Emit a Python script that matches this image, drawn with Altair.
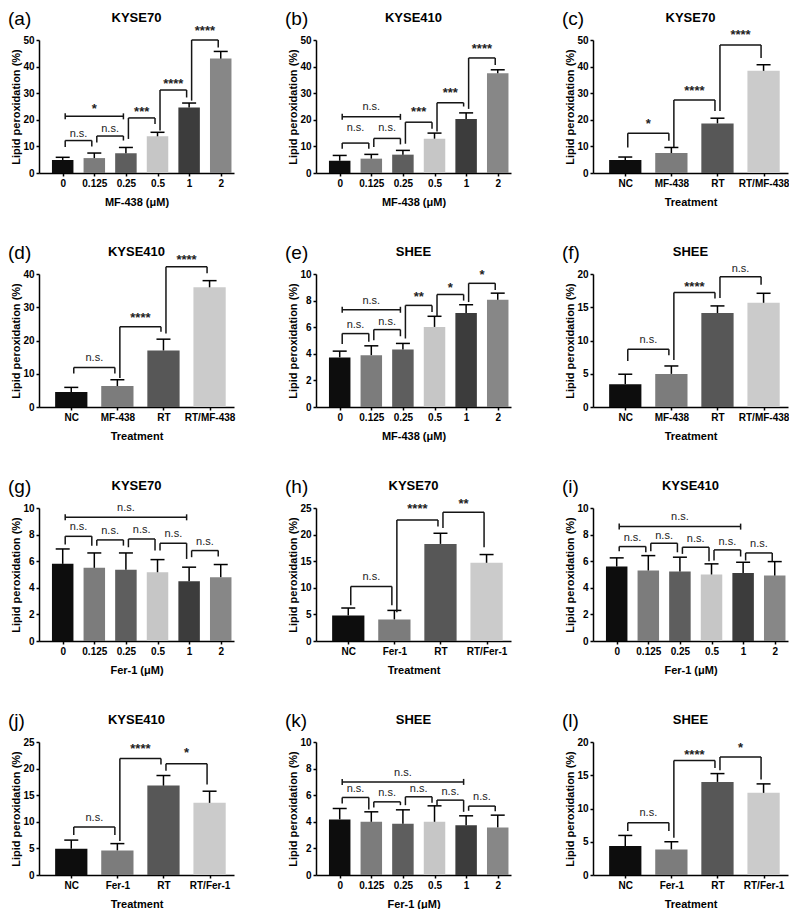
import json
import altair as alt
import pandas as pd

FONT = "Liberation Sans"
W, H = 195, 133
YTITLE = "Lipid peroxidation (%)"

DOSES = ["0", "0.125", "0.25", "0.5", "1", "2"]
TREAT_MF = ["NC", "MF-438", "RT", "RT/MF-438"]
TREAT_FER = ["NC", "Fer-1", "RT", "RT/Fer-1"]
DOSE_COLORS = ["#0d0d0d", "#7c7c7c", "#5e5e5e", "#c6c6c6", "#3c3c3c", "#878787"]
TREAT_COLORS = ["#0d0d0d", "#7c7c7c", "#575757", "#cbcbcb"]

# bracket tuples: (from, to, height, left leg end, right leg end, label, label y)
A_MEAN = [4.9, 5.6, 7.4, 13.8, 24.6, 43.0]
A_TOP = [5.9, 7.5, 9.6, 15.3, 26.3, 45.7]
A_BR = [(0, 1, 12.2, 9.8, 10.0, "n.s.", 14.7), (1, 2, 13.9, 11.5, 12.2, "n.s.", 16.5),
        (0, 2, 21.3, None, None, "*", 25.7), (2, 3, 20.7, 12.8, 18.4, "***", 24.4),
        (3, 4, 31.2, 16.0, 28.4, "****", 35.1), (4, 5, 50.0, 27.2, 47.2, "****", 54.8)]

B_MEAN = [4.6, 5.4, 6.9, 12.9, 20.3, 37.5]
B_TOP = [6.6, 7.0, 8.5, 15.0, 22.6, 38.8]
B_BR = [(0, 1, 11.25, 9.1, 9.1, "n.s.", 16.8), (1, 2, 13.0, 9.75, 10.75, "n.s.", 16.8),
        (0, 2, 21.1, None, None, "n.s.", 24.9), (2, 3, 19.1, 11.0, 16.6, "***", 24.4),
        (3, 4, 26.4, 15.6, 25.0, "***", 31.6), (4, 5, 43.25, 24.1, 40.6, "****", 48.25)]

C_MEAN = [4.85, 7.5, 18.65, 38.4]
C_TOP = [6.0, 9.6, 20.6, 40.7]
C_BR = [(0, 1, 14.9, 9.6, 12.1, "*", 20.1), (1, 2, 27.4, 9.8, 23.3, "****", 32.2),
        (2, 3, 48.1, 23.3, 43.2, "****", 53.5)]

D_MEAN = [4.5, 6.3, 17.0, 36.0]
D_TOP = [5.9, 8.2, 20.4, 38.0]
D_BR = [(0, 1, 11.9, 10.1, 10.1, "n.s.", 14.6), (1, 2, 24.1, 8.7, 22.6, "****", 28.1),
        (2, 3, 42.2, 22.1, 40.2, "****", 45.3)]

E_MEAN = [3.73, 3.9, 4.33, 6.02, 7.06, 8.06]
E_TOP = [4.2, 4.6, 4.78, 6.82, 7.69, 8.56]
E_BR = [(0, 1, 5.52, 4.73, 4.9, "n.s.", 6.14), (1, 2, 5.82, 5.02, 5.32, "n.s.", 6.4),
        (0, 2, 7.31, None, None, "n.s.", 7.94), (2, 3, 7.64, 5.15, 7.14, "**", 8.56),
        (3, 4, 8.46, 6.77, 8.0, "*", 9.25), (4, 5, 9.3, 7.89, 8.8, "*", 10.25)]

F_MEAN = [3.43, 4.98, 14.13, 15.67]
F_TOP = [4.93, 6.17, 15.2, 17.1]
F_BR = [(0, 1, 8.7, 6.9, 7.8, "n.s.", 10.05), (1, 2, 17.2, 7.06, 16.3, "****", 18.6),
        (2, 3, 19.6, 16.4, 18.4, "n.s.", 20.7)]

G_MEAN = [5.8, 5.5, 5.35, 5.17, 4.5, 4.8]
G_TOP = [6.92, 6.62, 6.62, 6.12, 5.55, 5.75]
G_BR = [(0, 1, 7.87, 7.25, 7.17, "n.s.", 8.55), (1, 2, 7.6, 7.17, 7.17, "n.s.", 8.3),
        (2, 3, 7.67, 7.05, 6.8, "n.s.", 8.37), (3, 4, 7.35, 6.8, 6.17, "n.s.", 8.05),
        (4, 5, 6.8, 6.3, 6.35, "n.s.", 7.42), (0, 4, 9.3, None, None, "n.s.", 9.97)]

H_MEAN = [4.8, 4.06, 18.25, 14.7]
H_TOP = [6.2, 5.75, 20.25, 16.25]
H_BR = [(0, 1, 10.25, 6.7, 6.7, "n.s.", 12.0), (1, 2, 22.75, 5.4, 21.5, "****", 25.6),
        (2, 3, 24.2, 21.25, 17.6, "**", 26.5)]

I_MEAN = [5.6, 5.3, 5.22, 5.0, 5.12, 4.92]
I_TOP = [6.25, 6.42, 6.3, 5.8, 5.92, 5.97]
I_BR = [(0, 1, 7.1, 6.75, 6.67, "n.s.", 7.72), (1, 2, 7.35, 6.75, 6.67, "n.s.", 7.92),
        (2, 3, 7.05, 6.55, 6.0, "n.s.", 7.67), (3, 4, 6.85, 6.05, 6.35, "n.s.", 7.42),
        (4, 5, 6.62, 6.05, 5.97, "n.s.", 7.3), (0, 4, 8.6, None, None, "n.s.", 9.3)]

J_MEAN = [4.94, 4.62, 16.8, 13.56]
J_TOP = [6.56, 5.9, 18.7, 15.75]
J_BR = [(0, 1, 9.0, 7.5, 7.5, "n.s.", 10.75), (1, 2, 21.9, 6.4, 20.75, "****", 24.4),
        (2, 3, 20.9, 19.6, 17.0, "*", 23.75)]

K_MEAN = [4.18, 4.0, 3.85, 4.0, 3.75, 3.58]
K_TOP = [5.0, 4.75, 4.9, 5.2, 4.45, 4.5]
K_BR = [(0, 1, 5.83, 5.38, 4.93, "n.s.", 6.5), (1, 2, 5.5, 5.08, 5.25, "n.s.", 6.13),
        (2, 3, 5.88, 5.25, 5.43, "n.s.", 6.5), (3, 4, 5.63, 5.18, 4.75, "n.s.", 6.25),
        (4, 5, 5.18, 4.83, 4.8, "n.s.", 5.83), (0, 4, 7.0, None, None, "n.s.", 7.68)]

L_MEAN = [4.35, 3.85, 14.0, 12.35]
L_TOP = [5.95, 5.0, 15.25, 13.7]
L_BR = [(0, 1, 7.85, 6.6, 6.6, "n.s.", 9.25), (1, 2, 17.2, 5.6, 16.1, "****", 18.7),
        (2, 3, 17.75, 15.75, 14.35, "*", 19.7)]


def make_panel(letter, title, cats, colors, xtitle, ymax, ystep, means, tops, brackets):
    n = len(cats)
    if n == 6:
        lo, hi, half = -0.75, n - 1 + 0.42, 0.34
    else:
        lo, hi, half = -0.70, n - 1 + 0.53, 0.35
    step = W / (hi - lo)
    cap = 7.0 / step
    off = 2.5 / step

    bars = pd.DataFrame({"i": list(range(n)), "cat": cats, "mean": means,
                         "top": tops, "color": colors})
    bars["x0"] = bars["i"] - half
    bars["x1"] = bars["i"] + half
    bars["c0"] = bars["i"] - cap
    bars["c1"] = bars["i"] + cap
    bars["zero"] = 0.0

    hl, legs, spans, ns, stars = [], [], [], [], []
    for (i, j, h, yl, yr, lab, ly) in brackets:
        a, b = i + off, j - off
        hl.append({"a": a, "b": b, "h": h})
        if yl is None:
            spans.append({"x": a, "h": h})
            spans.append({"x": b, "h": h})
        else:
            legs.append({"x": a, "y1": yl, "y2": h})
            legs.append({"x": b, "y1": yr, "y2": h})
        rec = {"mx": (i + j) / 2.0, "ly": ly, "t": lab}
        (ns if lab == "n.s." else stars).append(rec)

    xs = alt.Scale(domain=[lo, hi], nice=False, zero=False)
    ys = alt.Scale(domain=[0, ymax], nice=False, zero=True)
    xaxis = alt.Axis(values=list(range(n)), labelExpr=json.dumps(cats) + "[datum.value]",
                     title=xtitle, tickSize=3, labelPadding=2, titlePadding=8,
                     labelFlush=False, labelOverlap=False, grid=False)
    yaxis = alt.Axis(values=list(range(0, ymax + 1, ystep)), title=YTITLE,
                     titleX=-18, titleY=H / 2, titleBaseline="bottom",
                     tickSize=3, labelPadding=2, grid=False)

    def X(f):
        return alt.X(f, type="quantitative", scale=xs, axis=xaxis)

    def Y(f):
        return alt.Y(f, type="quantitative", scale=ys, axis=yaxis)

    layers = []
    layers.append(alt.Chart(bars).mark_bar().encode(
        x=X("x0"), x2="x1:Q", y=Y("mean"), y2="zero:Q",
        color=alt.Color("color:N", scale=None)))
    layers.append(alt.Chart(bars).mark_rule(color="black", strokeWidth=1.5).encode(
        x=X("i"), y=Y("mean"), y2="top:Q"))
    layers.append(alt.Chart(bars).mark_rule(color="black", strokeWidth=1.5).encode(
        x=X("c0"), x2="c1:Q", y=Y("top")))
    layers.append(alt.Chart(pd.DataFrame(hl)).mark_rule(color="#151515", strokeWidth=1.5).encode(
        x=X("a"), x2="b:Q", y=Y("h")))
    if legs:
        layers.append(alt.Chart(pd.DataFrame(legs)).mark_rule(color="#151515", strokeWidth=1.5).encode(
            x=X("x"), y=Y("y1"), y2="y2:Q"))
    if spans:
        layers.append(alt.Chart(pd.DataFrame(spans)).mark_rule(
            color="#151515", strokeWidth=1.5, yOffset=-3, y2Offset=3).encode(
            x=X("x"), y=Y("h"), y2="h:Q"))
    if ns:
        layers.append(alt.Chart(pd.DataFrame(ns)).mark_text(
            font=FONT, fontSize=11, color="#222222", baseline="middle").encode(
            x=X("mx"), y=Y("ly"), text="t:N"))
    if stars:
        layers.append(alt.Chart(pd.DataFrame(stars)).mark_text(
            font=FONT, fontSize=13, fontWeight="bold", color="#222222",
            baseline="middle", dy=4).encode(
            x=X("mx"), y=Y("ly"), text="t:N"))
    layers.append(alt.Chart(pd.DataFrame({"t": [title]})).mark_text(
        font=FONT, fontSize=13, fontWeight="bold", color="black",
        align="center", baseline="middle").encode(
        text="t:N", x=alt.value(W / 2), y=alt.value(-22)))
    layers.append(alt.Chart(pd.DataFrame({"t": [letter]})).mark_text(
        font=FONT, fontSize=19, color="black", align="left", baseline="top").encode(
        text="t:N", x=alt.value(-31), y=alt.value(-30)))
    return alt.layer(*layers).properties(width=W, height=H)


MF = "MF-438 (μM)"
FER = "Fer-1 (μM)"
TR = "Treatment"
panels = [
    make_panel("(a)", "KYSE70", DOSES, DOSE_COLORS, MF, 50, 10, A_MEAN, A_TOP, A_BR),
    make_panel("(b)", "KYSE410", DOSES, DOSE_COLORS, MF, 50, 10, B_MEAN, B_TOP, B_BR),
    make_panel("(c)", "KYSE70", TREAT_MF, TREAT_COLORS, TR, 50, 10, C_MEAN, C_TOP, C_BR),
    make_panel("(d)", "KYSE410", TREAT_MF, TREAT_COLORS, TR, 40, 10, D_MEAN, D_TOP, D_BR),
    make_panel("(e)", "SHEE", DOSES, DOSE_COLORS, MF, 10, 2, E_MEAN, E_TOP, E_BR),
    make_panel("(f)", "SHEE", TREAT_MF, TREAT_COLORS, TR, 20, 5, F_MEAN, F_TOP, F_BR),
    make_panel("(g)", "KYSE70", DOSES, DOSE_COLORS, FER, 10, 2, G_MEAN, G_TOP, G_BR),
    make_panel("(h)", "KYSE70", TREAT_FER, TREAT_COLORS, TR, 25, 5, H_MEAN, H_TOP, H_BR),
    make_panel("(i)", "KYSE410", DOSES, DOSE_COLORS, FER, 10, 2, I_MEAN, I_TOP, I_BR),
    make_panel("(j)", "KYSE410", TREAT_FER, TREAT_COLORS, TR, 25, 5, J_MEAN, J_TOP, J_BR),
    make_panel("(k)", "SHEE", DOSES, DOSE_COLORS, FER, 10, 2, K_MEAN, K_TOP, K_BR),
    make_panel("(l)", "SHEE", TREAT_FER, TREAT_COLORS, TR, 20, 5, L_MEAN, L_TOP, L_BR),
]

chart = alt.concat(*panels, columns=3, spacing={"row": 101, "column": 82},
                   bounds="flush").properties(
    padding={"top": 2, "left": 0, "right": 0, "bottom": 0}).configure_view(
    stroke=None).configure_axis(
    domainColor="black", domainWidth=1.5, tickColor="black", tickWidth=1.5,
    labelFont=FONT, labelFontSize=10, labelFontWeight="bold", labelColor="black",
    titleFont=FONT, titleFontSize=11, titleFontWeight="bold", titleColor="black",
    grid=False)

chart.save("out.html", embed_options={"renderer": "svg", "actions": False})
